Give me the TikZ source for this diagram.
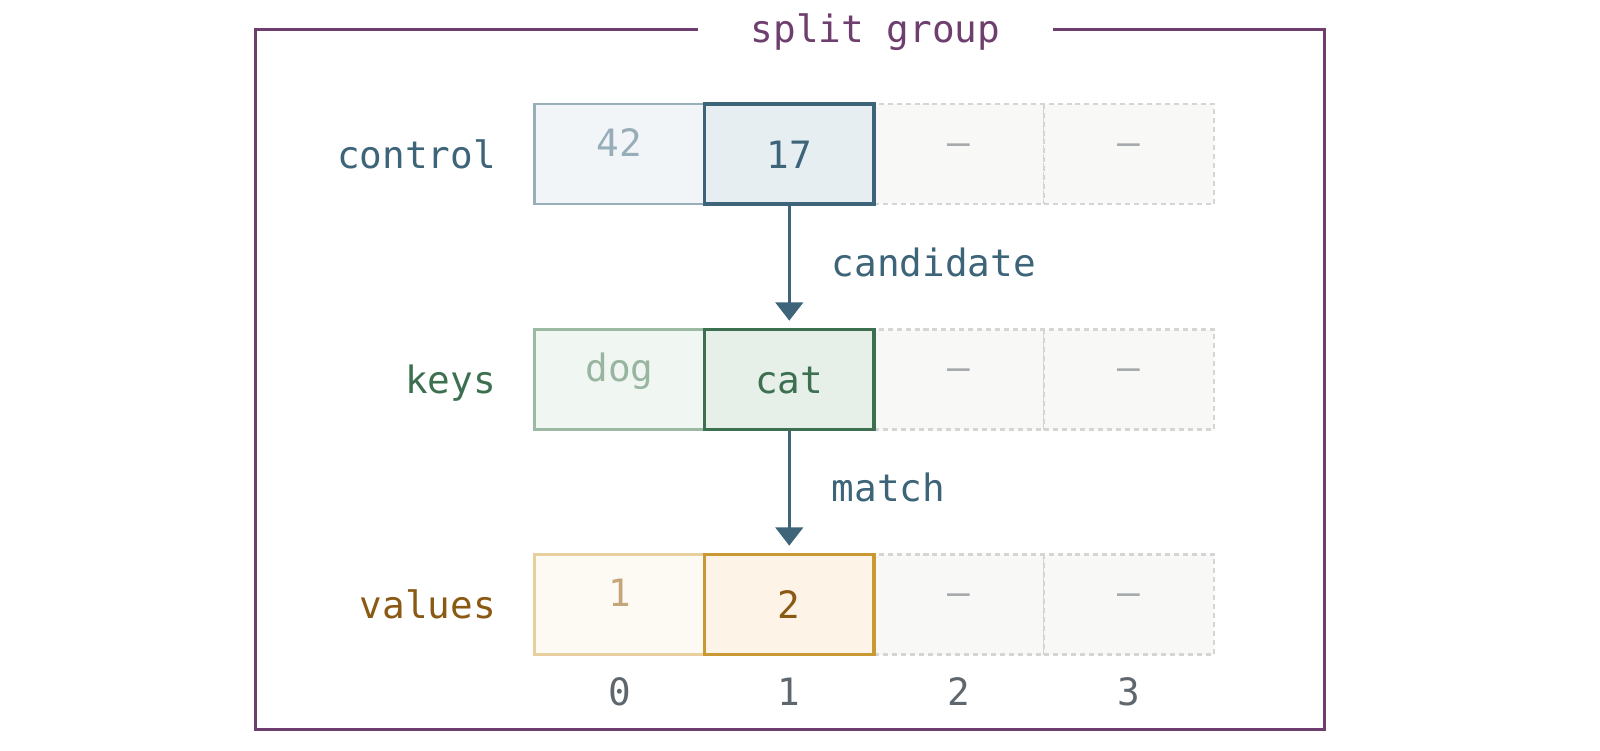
\documentclass[tikz,border=0pt]{standalone}
\usepackage{fontspec}
\setmonofont{DejaVu Sans Mono}
\usetikzlibrary{arrows.meta,positioning}

\definecolor{ctrl}{HTML}{3D6479}
\definecolor{ctrledge}{HTML}{98AEB9}
\definecolor{ctrlwash}{HTML}{F1F5F8}
\definecolor{ctrltint}{HTML}{E6EEF2}
\definecolor{ctrlpale}{HTML}{97ADB8}
\definecolor{keys}{HTML}{3D7050}
\definecolor{keysedge}{HTML}{9CBAA3}
\definecolor{keyswash}{HTML}{F0F6F1}
\definecolor{keystint}{HTML}{E6F0E8}
\definecolor{keyspale}{HTML}{97B5A0}
\definecolor{vals}{HTML}{8A5A14}
\definecolor{valsline}{HTML}{C99A34}
\definecolor{valsedge}{HTML}{E8CF9E}
\definecolor{valswash}{HTML}{FDF9F3}
\definecolor{valstint}{HTML}{FDF3E6}
\definecolor{valspale}{HTML}{C4A67A}
\definecolor{emptyfill}{HTML}{F8F8F7}
\definecolor{emptyedge}{HTML}{D5D5D5}
\definecolor{emptytext}{HTML}{A5A9AC}
\definecolor{idx}{HTML}{5F676E}
\definecolor{group}{HTML}{6E3F6E}

\begin{document}
\begin{tikzpicture}[
    font=\ttfamily\fontsize{10.5}{12}\selectfont,
    cell/.style={minimum width=1.665cm, minimum height=0.98cm, inner sep=0pt},
    oldcell/.style={cell, line width=0.7pt},
    newcell/.style={cell, line width=1pt},
    emptycell/.style={cell, draw=emptyedge, fill=emptyfill, line width=0.65pt,
      dash pattern=on 1.4pt off 1.1pt},
    txt/.style={inner sep=0pt, anchor=base},
    flow/.style={draw=ctrl, line width=0.9pt,
      -{Triangle[length=0.18cm, width=0.27cm]}, shorten >=0.07cm}]
  \useasboundingbox (0,0.15) rectangle (15.68,7.5);

  % split group frame
  \draw[group, line width=0.85pt] (2.50,0.35) rectangle (12.98,7.215);
  \node[fill=white, inner xsep=0.52cm, inner ysep=0.05cm, text=group, anchor=base] (title)
    at (8.58,7.08) {split group};

  % empty slots
  \foreach \y/\r in {5.99/ctrl, 3.78/keys, 1.575/vals}
    \foreach \i/\x in {2/9.40, 3/11.065} {
      \node[emptycell] (\r\i) at (\x,\y) {};
      \node[txt, text=emptytext] (\r\i t) at ([yshift=-0.01cm]\r\i.center) {\textendash};
    }

  % control
  \node[oldcell, draw=ctrledge, fill=ctrlwash] (ctrl0) at (6.07,5.99) {};
  \node[newcell, draw=ctrl, fill=ctrltint] (ctrl1) at (7.735,5.99) {};
  \node[txt, text=ctrlpale] (ctrl0t) at ([yshift=-0.02cm]ctrl0.center) {42};
  \node[txt, text=ctrl] (ctrl1t) at ([yshift=-0.14cm]ctrl1.center) {17};
  \node[txt, anchor=base east, text=ctrl] (ctrllab)
    at ([xshift=-0.36cm, yshift=-0.14cm]ctrl0.west) {control};

  % keys
  \node[oldcell, draw=keysedge, fill=keyswash] (keys0) at (6.07,3.78) {};
  \node[newcell, draw=keys, fill=keystint] (keys1) at (7.735,3.78) {};
  \node[txt, text=keyspale] (keys0t) at ([yshift=-0.02cm]keys0.center) {dog};
  \node[txt, text=keys] (keys1t) at ([yshift=-0.14cm]keys1.center) {cat};
  \node[txt, anchor=base east, text=keys] (keyslab)
    at ([xshift=-0.36cm, yshift=-0.14cm]keys0.west) {keys};

  % values
  \node[oldcell, draw=valsedge, fill=valswash] (vals0) at (6.07,1.575) {};
  \node[newcell, draw=valsline, fill=valstint] (vals1) at (7.735,1.575) {};
  \node[txt, text=valspale] (vals0t) at ([yshift=-0.02cm]vals0.center) {1};
  \node[txt, text=vals] (vals1t) at ([yshift=-0.14cm]vals1.center) {2};
  \node[txt, anchor=base east, text=vals] (valslab)
    at ([xshift=-0.36cm, yshift=-0.14cm]vals0.west) {values};

  % slot indices
  \foreach \i in {0,...,3}
    \node[txt, text=idx] (idx\i) at ([yshift=-0.985cm]vals\i.center) {\i};

  % probes
  \draw[flow] (ctrl1) -- (keys1)
    node[midway, right=0.40cm, yshift=0.045cm, text=ctrl, inner sep=0pt] (cand) {candidate};
  \draw[flow] (keys1) -- (vals1)
    node[midway, right=0.40cm, yshift=0.05cm, text=ctrl, inner sep=0pt] (match) {match};
\end{tikzpicture}
\end{document}
